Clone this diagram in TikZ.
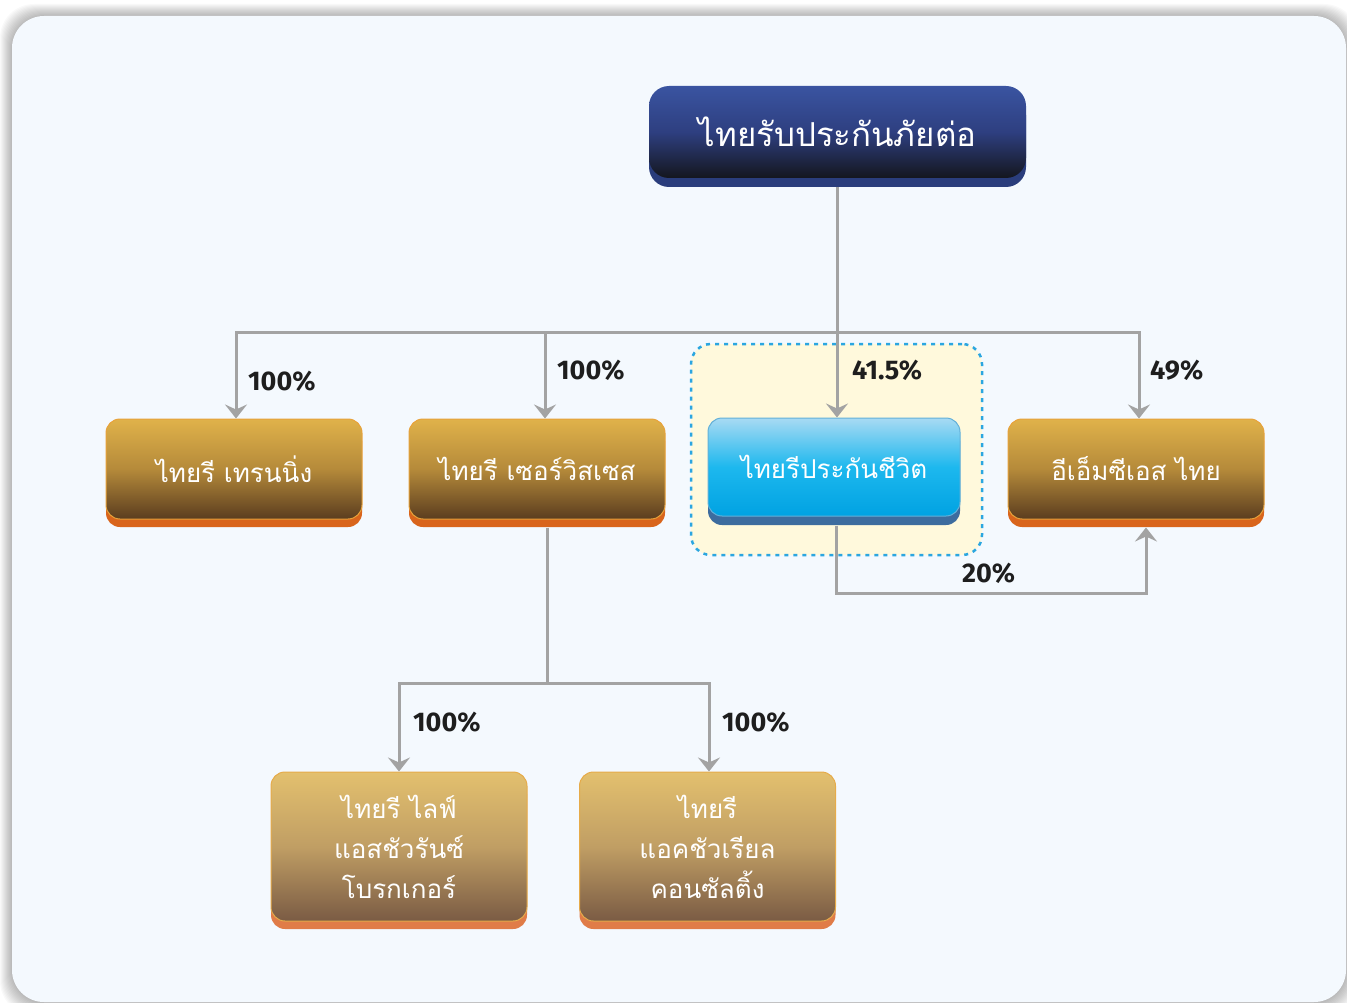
\documentclass[tikz,border=0pt]{standalone}
\usepackage{fontspec}
\usetikzlibrary{arrows.meta,shadows}
\newfontfamily\thaifont[Script=Thai]{Loma}
\newfontfamily\labfont{Fira Sans}
\definecolor{panelbg}{HTML}{F4F9FE}
\definecolor{navytop}{HTML}{3A54A1}
\definecolor{navymid}{HTML}{2E3F80}
\definecolor{navybot}{HTML}{14161E}
\definecolor{navylip}{HTML}{2A3D7C}
\definecolor{goldtop}{HTML}{E0B24A}
\definecolor{goldmid}{HTML}{B58A3A}
\definecolor{goldbot}{HTML}{5B3D1F}
\definecolor{goldlip}{HTML}{D9651C}
\definecolor{goldedge}{HTML}{E8A23A}
\definecolor{sandtop}{HTML}{E3C06E}
\definecolor{sandmid}{HTML}{C09E64}
\definecolor{sandbot}{HTML}{7A5B44}
\definecolor{sandlip}{HTML}{E07C48}
\definecolor{skytop}{HTML}{A8DAF3}
\definecolor{skymid}{HTML}{1DB8EE}
\definecolor{skybot}{HTML}{00A2E2}
\definecolor{skylip}{HTML}{3D6C9E}
\definecolor{skyedge}{HTML}{63B0D8}
\definecolor{regionfill}{HTML}{FFF9DC}
\definecolor{regionline}{HTML}{2BA6E0}
\definecolor{connline}{HTML}{A3A3A3}
\definecolor{labtext}{HTML}{1E1E1E}
\begin{document}
\begin{tikzpicture}[x=1pt,y=-1pt,
  face/.style={rounded corners=14pt, inner sep=0pt, text=white, align=center,
    font=\thaifont\fontsize{26}{40}\selectfont},
  topbox/.style={face, rounded corners=20pt, minimum width=377pt, minimum height=92pt,
    font=\thaifont\fontsize{33}{40}\selectfont,
    top color=navytop, bottom color=navybot, middle color=navymid,
    drop shadow={shadow xshift=0pt, shadow yshift=-9pt, fill=navylip, opacity=1}},
  goldbox/.style={face, minimum width=256pt, minimum height=100pt, draw=goldedge, line width=1pt,
    top color=goldtop, bottom color=goldbot, middle color=goldmid,
    drop shadow={shadow xshift=0pt, shadow yshift=-8pt, fill=goldlip, opacity=1}},
  sandbox/.style={face, minimum width=256pt, minimum height=149pt, draw=goldedge!70!sandtop, line width=1pt,
    top color=sandtop, bottom color=sandbot, middle color=sandmid,
    drop shadow={shadow xshift=0pt, shadow yshift=-8pt, fill=sandlip, opacity=1}},
  skybox/.style={face, minimum width=252pt, minimum height=98pt, draw=skyedge, line width=1pt,
    top color=skytop, bottom color=skybot, middle color=skymid,
    drop shadow={shadow xshift=0pt, shadow yshift=-9pt, fill=skylip, opacity=1}},
  region/.style={draw=regionline, fill=regionfill, line width=2.5pt, dash pattern=on 4pt off 5pt,
    rounded corners=20pt, minimum width=291pt, minimum height=211pt, inner sep=0pt},
  conn/.style={draw=connline, line width=3pt},
  arr/.style={conn, -{Stealth[length=14pt, width=22pt, inset=5pt]}},
  lab/.style={font=\labfont\bfseries\fontsize{27}{30}\selectfont, text=labtext, anchor=west, inner sep=0pt}
]
\useasboundingbox (0,0) rectangle (1347,1003);
\fill[white] (0,0) rectangle (1347,1003);
% panel shadow
\foreach \i in {1,...,12}{
  \fill[black, opacity=0.022, rounded corners=34pt] (12-\i,16-\i) rectangle (1346+\i,1003+\i);
}
\fill[panelbg, rounded corners=32pt] (12,16) rectangle (1346,1002);

% highlighted region
\node[region] (grp) at (836.5,449.5) {};

% nodes
\node[topbox] (top) at (837.5,132) {ไทยรับประกันภัยต่อ};
\node[goldbox] (A) at (234,469) {ไทยรี เทรนนิ่ง};
\node[goldbox] (B) at (537,469) {ไทยรี เซอร์วิสเซส};
\node[skybox] (C) at (834,467) {ไทยรีประกันชีวิต};
\node[goldbox] (D) at (1136,469) {อีเอ็มซีเอส ไทย};
\node[sandbox] (E) at (399,846.5) {ไทยรี ไลฟ์\\แอสชัวรันซ์\\โบรกเกอร์};
\node[sandbox] (F) at (707.5,846.5) {ไทยรี\\แอคชัวเรียล\\คอนซัลติ้ง};

% junctions
\coordinate (hub) at (837,332);
\coordinate (hub2) at (547,683);
\coordinate (cd) at (1146,593);

% connectors
\draw[conn] ([yshift=-9pt]top.south -| hub) -- (hub);
\draw[arr] (hub) -| ([xshift=2pt]A.north);
\draw[arr] (hub) -| ([xshift=8pt]B.north);
\draw[arr] (hub) -- (hub |- C.north);
\draw[arr] (hub) -| ([xshift=3pt]D.north);
\draw[conn] ([xshift=10pt,yshift=-8pt]B.south) -- (hub2);
\draw[arr] (hub2) -| (E.north);
\draw[arr] (hub2) -| ([xshift=1.5pt]F.north);
\draw[arr] ([xshift=2pt,yshift=-9pt]C.south) |- (cd) -- ([xshift=10pt,yshift=-8pt]D.south);

% labels
\node[lab] (l1) at (248,381) {100\%};
\node[lab] (l2) at (557,370) {100\%};
\node[lab] (l3) at (852,370) {41.5\%};
\node[lab] (l4) at (1150,370) {49\%};
\node[lab] (l5) at (962,573) {20\%};
\node[lab] (l6) at (413,722) {100\%};
\node[lab] (l7) at (722,722) {100\%};
\end{tikzpicture}
\end{document}
